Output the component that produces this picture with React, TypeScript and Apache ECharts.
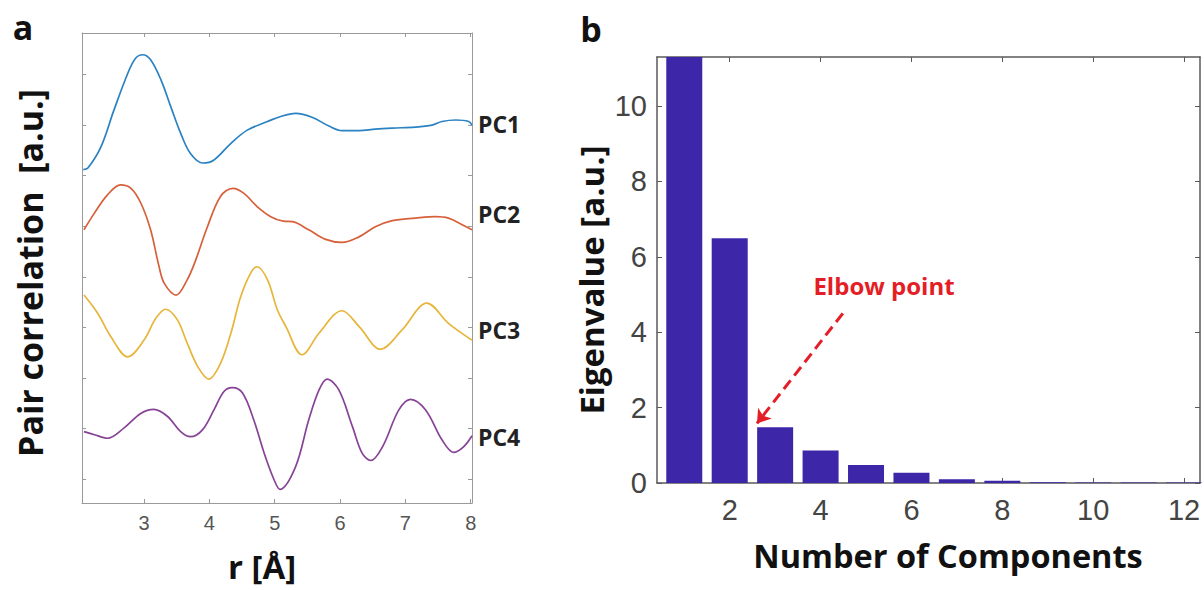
import React, { useEffect, useRef } from "react";
import * as echarts from "echarts";

// ---- Panel a: principal components of pair correlation ----
const rPC1 = [2.07, 2.14, 2.34, 2.54, 2.75, 2.87, 2.98, 3.10, 3.26, 3.41, 3.56, 3.71, 3.90, 4.07, 4.33, 4.58, 4.89, 5.09, 5.32, 5.58, 5.83, 6.03, 6.29, 6.54, 6.80, 7.15, 7.41, 7.56, 7.77, 7.97, 8.02];
const yPC1 = [6.12, 6.15, 6.57, 7.30, 8.02, 8.32, 8.39, 8.29, 7.89, 7.36, 6.84, 6.44, 6.25, 6.31, 6.64, 6.90, 7.07, 7.17, 7.23, 7.15, 6.98, 6.89, 6.89, 6.92, 6.94, 6.96, 7.00, 7.07, 7.10, 7.07, 7.00];

const rPC2 = [2.08, 2.24, 2.44, 2.64, 2.80, 2.95, 3.10, 3.23, 3.31, 3.49, 3.66, 3.79, 3.97, 4.17, 4.36, 4.53, 4.73, 4.94, 5.13, 5.27, 5.52, 5.78, 6.03, 6.29, 6.54, 6.80, 7.15, 7.46, 7.66, 7.87, 8.02];
const yPC2 = [4.93, 5.26, 5.62, 5.82, 5.75, 5.46, 4.93, 4.20, 3.87, 3.64, 3.94, 4.33, 4.99, 5.59, 5.75, 5.65, 5.39, 5.19, 5.10, 5.09, 4.93, 4.74, 4.68, 4.79, 4.99, 5.11, 5.16, 5.19, 5.16, 5.03, 4.93];

const rPC3 = [2.08, 2.29, 2.49, 2.75, 3.00, 3.18, 3.33, 3.51, 3.66, 3.82, 3.99, 4.17, 4.33, 4.48, 4.63, 4.73, 4.89, 5.04, 5.17, 5.42, 5.68, 6.03, 6.29, 6.62, 6.95, 7.33, 7.66, 7.97, 8.02];
const yPC3 = [3.64, 3.28, 2.82, 2.42, 2.75, 3.18, 3.36, 3.15, 2.69, 2.23, 1.98, 2.29, 2.89, 3.61, 4.07, 4.20, 3.94, 3.35, 3.02, 2.46, 2.89, 3.33, 3.02, 2.57, 2.95, 3.48, 3.08, 2.79, 2.75];

const rPC4 = [2.08, 2.24, 2.44, 2.69, 2.95, 3.15, 3.36, 3.56, 3.71, 3.89, 4.07, 4.22, 4.35, 4.51, 4.68, 4.84, 4.99, 5.08, 5.32, 5.52, 5.68, 5.80, 5.98, 6.19, 6.34, 6.47, 6.65, 6.90, 7.08, 7.31, 7.56, 7.74, 7.89, 8.02];
const yPC4 = [0.94, 0.88, 0.81, 1.01, 1.30, 1.38, 1.24, 0.94, 0.84, 0.97, 1.37, 1.73, 1.81, 1.70, 1.17, 0.51, -0.01, -0.20, 0.25, 1.17, 1.77, 1.98, 1.77, 1.04, 0.51, 0.37, 0.64, 1.37, 1.58, 1.37, 0.78, 0.53, 0.64, 0.86];

const pcNames = ["PC1", "PC2", "PC3", "PC4"];
const rTicks = [3, 4, 5, 6, 7, 8];
const offsetTicks = [0, 1, 2, 3, 4, 5, 6, 7, 8];

// ---- Panel b: eigenvalues ----
const components = [1, 2, 3, 4, 5, 6, 7, 8, 9, 10, 11, 12];
const eigenvalues = [11.3, 6.49, 1.48, 0.86, 0.48, 0.27, 0.1, 0.06, 0.02, 0.01, 0.01, 0.01];
const compTicks = [2, 4, 6, 8, 10, 12];
const eigenTicks = [0, 2, 4, 6, 8, 10];
const elbowArrowFrom = [4.49, 4.5];
const elbowArrowTo = [2.6, 1.58];

const zip = (xs: number[], ys: number[]) => xs.map((x, i) => [x, ys[i]]);

const lineColors = ["#2a82c2", "#d6603a", "#e6b53a", "#874396"];
const barColor = "#3E26A8";
const titleFont = '"Open Sans", "DejaVu Sans", sans-serif';
const tickFont = '"Liberation Sans", Arial, sans-serif';

export default function App() {
  const ref = useRef<HTMLDivElement>(null);

  useEffect(() => {
    if (!ref.current) return;
    const chart = echarts.init(ref.current, undefined, { renderer: "svg" });

    const leftAxisColor = "#9a9a9a";
    const rightAxisColor = "#5a5a5a";

    const curves = [zip(rPC1, yPC1), zip(rPC2, yPC2), zip(rPC3, yPC3), zip(rPC4, yPC4)];

    const frameAxis = (color: string, width: number, ticks: number[], tickLen: number, label: any) => ({
      axisLine: { show: true, onZero: false, lineStyle: { color, width } },
      axisTick: { show: true, inside: true, length: tickLen, customValues: ticks, lineStyle: { color } },
      axisLabel: label ? { show: true, customValues: ticks, ...label } : { show: false },
      splitLine: { show: false },
    });

    const option: any = {
      animation: false,
      backgroundColor: "#ffffff",
      grid: [
        { left: 82, top: 33, width: 390, height: 470 },
        { left: 657, top: 57, width: 543, height: 426 },
      ],
      xAxis: [
        {
          type: "value", gridIndex: 0, min: 2.05, max: 8.02, position: "bottom",
          ...frameAxis(leftAxisColor, 1, rTicks, 4, { color: "#555", fontSize: 20, fontFamily: tickFont, margin: 10 }),
        },
        {
          type: "value", gridIndex: 0, min: 2.05, max: 8.02, position: "top",
          ...frameAxis(leftAxisColor, 1, rTicks, 4, null),
        },
        {
          type: "value", gridIndex: 1, min: 0.4, max: 12.35, position: "bottom",
          ...frameAxis(rightAxisColor, 1.5, compTicks, 5, { color: "#444", fontSize: 29, fontFamily: tickFont, margin: 12 }),
        },
        {
          type: "value", gridIndex: 1, min: 0.4, max: 12.35, position: "top",
          ...frameAxis(rightAxisColor, 1.5, compTicks, 5, null),
        },
      ],
      yAxis: [
        {
          type: "value", gridIndex: 0, min: -0.47, max: 8.82, position: "left",
          ...frameAxis(leftAxisColor, 1, offsetTicks, 4, null),
        },
        {
          type: "value", gridIndex: 0, min: -0.47, max: 8.82, position: "right",
          ...frameAxis(leftAxisColor, 1, offsetTicks, 4, null),
        },
        {
          type: "value", gridIndex: 1, min: 0, max: 11.3, position: "left",
          ...frameAxis(rightAxisColor, 1.5, eigenTicks, 5, { color: "#444", fontSize: 29, fontFamily: tickFont, margin: 10 }),
        },
        {
          type: "value", gridIndex: 1, min: 0, max: 11.3, position: "right",
          ...frameAxis(rightAxisColor, 1.5, eigenTicks, 5, null),
        },
      ],
      series: [
        ...curves.map((d, i) => ({
          type: "line",
          name: pcNames[i],
          xAxisIndex: 0,
          yAxisIndex: 0,
          data: d,
          smooth: 0.35,
          showSymbol: false,
          symbol: "none",
          lineStyle: { color: lineColors[i], width: 1.7 },
          silent: true,
          z: 3,
        })),
        {
          type: "bar",
          name: "Eigenvalue",
          xAxisIndex: 2,
          yAxisIndex: 2,
          data: zip(components, eigenvalues),
          barWidth: 36,
          itemStyle: { color: barColor },
          clip: true,
          silent: true,
          markLine: {
            silent: true,
            symbol: ["none", "arrow"],
            symbolSize: 13,
            label: { show: false },
            lineStyle: { color: "#e41e26", width: 3, type: [11, 6] },
            data: [[{ coord: elbowArrowFrom }, { coord: elbowArrowTo }]],
          },
        },
      ],
      graphic: [
        { type: "text", x: 23, y: 27, style: { text: "a", font: `bold 34px ${titleFont}`, fill: "#111", align: "center", verticalAlign: "middle" } },
        { type: "text", x: 591, y: 29, style: { text: "b", font: `bold 34px ${titleFont}`, fill: "#111", align: "center", verticalAlign: "middle" } },
        ...pcNames.map((n, i) => ({
          type: "text",
          x: 478,
          y: [124, 214, 330, 437][i],
          style: { text: n, font: `bold 23px ${titleFont}`, fill: "#222", verticalAlign: "middle", align: "left" },
        })),
        {
          type: "text", x: 30, y: 273, rotation: Math.PI / 2,
          style: { text: "Pair correlation  [a.u.]", font: `bold 34px ${titleFont}`, fill: "#111", align: "center", verticalAlign: "middle" },
        },
        {
          type: "text", x: 262, y: 566,
          style: { text: "r [Å]", font: `bold 33px ${titleFont}`, fill: "#111", align: "center", verticalAlign: "middle" },
        },
        {
          type: "text", x: 591, y: 280, rotation: Math.PI / 2,
          style: { text: "Eigenvalue [a.u.]", font: `bold 33px ${titleFont}`, fill: "#111", align: "center", verticalAlign: "middle" },
        },
        {
          type: "text", x: 948, y: 555,
          style: { text: "Number of Components", font: `bold 32.5px ${titleFont}`, fill: "#111", align: "center", verticalAlign: "middle" },
        },
        {
          type: "text", x: 884, y: 285,
          style: { text: "Elbow point", font: `bold 24px ${titleFont}`, fill: "#e41e26", align: "center", verticalAlign: "middle" },
        },
      ],
    };

    chart.setOption(option);
    return () => chart.dispose();
  }, []);

  return (
    <div
      ref={ref}
      style={{ position: "fixed", left: 0, top: 0, width: 1204, height: 590, background: "#fff" }}
    />
  );
}
